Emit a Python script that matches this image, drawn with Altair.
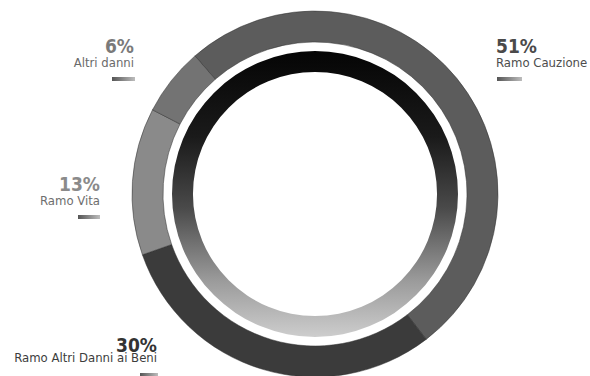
import math
import altair as alt
import pandas as pd

# Portfolio split by line of business (percent)
categories = ["Ramo Cauzione", "Ramo Altri Danni ai Beni", "Ramo Vita", "Altri danni"]
shares = [51, 30, 13, 6]
pct_labels = ["51%", "30%", "13%", "6%"]

# Styling
ring_colors = ["#5c5c5c", "#3b3b3b", "#8a8a8a", "#737373"]
pct_colors = ["#4a4a4a", "#333333", "#8a8a8a", "#7a7a7a"]
name_colors = ["#4d4d4d", "#3d3d3d", "#6e6e6e", "#6a6a6a"]

W, H = 590, 376
CX, CY = 315, 194
START = math.radians(-41)
FONT = "DejaVu Sans Condensed, DejaVu Sans, sans-serif"

# Label anchors: (x, baseline of %, baseline of name, align, bar x0, bar x1, bar y)
label_layout = {
    "Ramo Cauzione": (496, 53, 67, "left", 497, 522, 77),
    "Ramo Altri Danni ai Beni": (157, 352, 362, "right", 140, 158, 373),
    "Ramo Vita": (100, 191, 205, "right", 78, 100, 215),
    "Altri danni": (134, 53, 67, "right", 112, 135, 77),
}

df = pd.DataFrame({"category": categories, "share": shares, "idx": range(len(categories))})

outer = alt.Chart(df).mark_arc(
    outerRadius=183, innerRadius=152, stroke="#2e2e2e", strokeWidth=0.5
).encode(
    theta=alt.Theta("share:Q", stack=True,
                    scale=alt.Scale(range=[START, START + 2 * math.pi])),
    order=alt.Order("idx:O"),
    color=alt.Color("category:N", scale=alt.Scale(domain=categories, range=ring_colors),
                    legend=None),
    x=alt.value(CX),
    y=alt.value(CY),
)

ring_gradient = alt.Gradient(
    gradient="linear",
    stops=[
        alt.GradientStop(color="#050505", offset=0.0),
        alt.GradientStop(color="#1a1a1a", offset=0.3),
        alt.GradientStop(color="#4a4a4a", offset=0.55),
        alt.GradientStop(color="#9a9a9a", offset=0.8),
        alt.GradientStop(color="#cdcdcd", offset=1.0),
    ],
    x1=0, x2=0, y1=0, y2=1,
)

inner = alt.Chart(pd.DataFrame({"k": [0]})).mark_arc(
    innerRadius=122, outerRadius=143, fill=ring_gradient
).encode(
    theta=alt.value(0),
    theta2=alt.value(2 * math.pi),
    x=alt.value(CX),
    y=alt.value(CY),
)

bar_gradient = alt.Gradient(
    gradient="linear",
    stops=[alt.GradientStop(color="#555555", offset=0.0),
           alt.GradientStop(color="#bdbdbd", offset=1.0)],
    x1=0, x2=1, y1=0, y2=0,
)

layers = [inner, outer]
for cat, pct, pc, nc in zip(categories, pct_labels, pct_colors, name_colors):
    lx, py, ny, align, bx0, bx1, by = label_layout[cat]
    one = pd.DataFrame({"name": [cat], "pct": [pct]})
    layers.append(
        alt.Chart(one).mark_text(font=FONT, fontSize=13, align=align,
                                 baseline="alphabetic", color=nc)
        .encode(text="name:N", x=alt.value(lx), y=alt.value(ny))
    )
    layers.append(
        alt.Chart(one).mark_text(font=FONT, fontSize=19, fontWeight="bold", align=align,
                                 baseline="alphabetic", color=pc)
        .encode(text="pct:N", x=alt.value(lx), y=alt.value(py))
    )
    layers.append(
        alt.Chart(one).mark_rect(fill=bar_gradient)
        .encode(x=alt.value(bx0), x2=alt.value(bx1), y=alt.value(by), y2=alt.value(by + 4))
    )

chart = alt.layer(*layers).properties(
    width=W, height=H, padding=0, autosize=alt.AutoSizeParams(type="none"),
    background="white",
).configure_view(stroke=None)

chart.save("out.html", embed_options={"renderer": "svg", "actions": False})
